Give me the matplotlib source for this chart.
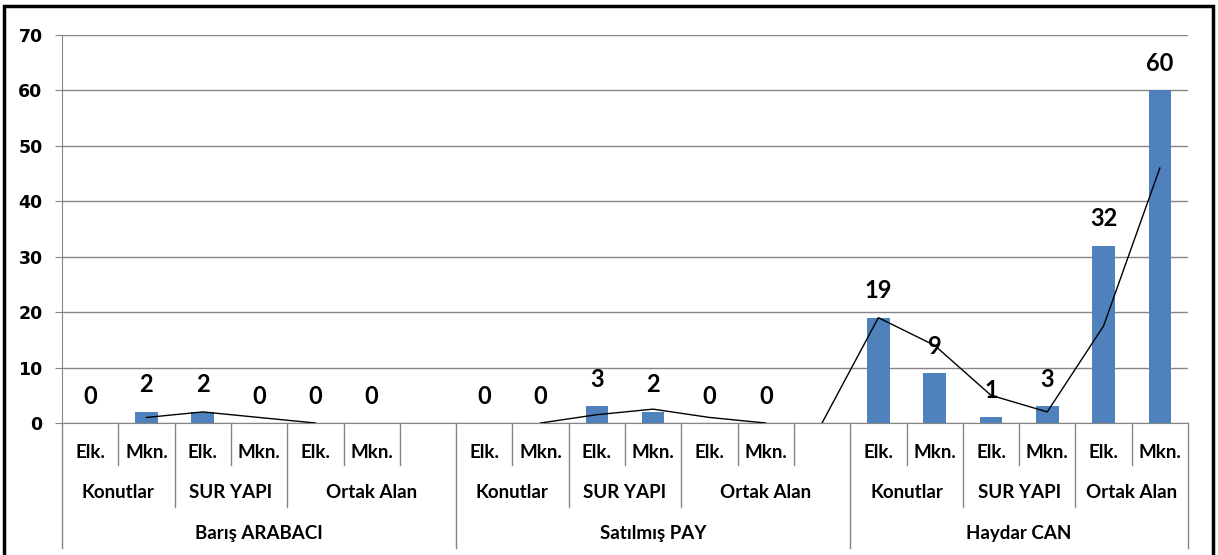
import numpy as np
import matplotlib
matplotlib.use("Agg")
import matplotlib.pyplot as plt
from matplotlib import transforms
from matplotlib.patches import Rectangle

plt.rcParams["font.family"] = ["Lato", "DejaVu Sans"]

groups = ["Barış ARABACI", "Satılmış PAY", "Haydar CAN"]
subgroups = ["Konutlar", "SUR YAPI", "Ortak Alan"]
kinds = ["Elk.", "Mkn."]

baris = [0, 2, 2, 0, 0, 0]
satilmis = [0, 0, 3, 2, 0, 0]
haydar = [19, 9, 1, 3, 32, 60]

# moving average trendline (None = not drawn)
trend_baris = [None, 1, 2, 1, 0, None]
trend_satilmis = [None, 0, 1.5, 2.5, 1, 0]
trend_haydar = [19, 14, 5, 2, 17.5, 46]

BLUE = "#4F81BD"
GRAY = "#868686"

# category layout: 6 bars per group, an empty slot after the first two groups
values = [baris, satilmis, haydar]
xs, ys = [], []
group_edges = [-0.5]
pos = 0
for gi, vals in enumerate(values):
    for k, v in enumerate(vals):
        xs.append(pos + k)
        ys.append(v)
    size = 7 if gi < 2 else 6
    pos += size
    group_edges.append(pos - 0.5)

fig = plt.figure(figsize=(12.18, 5.55), dpi=100)
ax = fig.add_axes([62 / 1218, 132 / 555, 1126 / 1218, 388 / 555])

ax.bar(xs, ys, width=0.4, color=BLUE, zorder=2)
for x, v in zip(xs, ys):
    ax.annotate(str(v), (x, v), xytext=(0, 27), textcoords="offset pixels",
                ha="center", va="center", fontsize=17, fontweight="bold", zorder=4)

# trendline segments (breaks where Excel left gaps)
segs = [([1, 2, 3, 4], trend_baris[1:5]),
        ([8, 9, 10, 11, 12], trend_satilmis[1:6]),
        ([13, 14, 15, 16, 17, 18, 19], [0] + trend_haydar)]
for sx, sy in segs:
    ax.plot(sx, sy, color="black", lw=1, zorder=3)

ax.set_xlim(-0.5, 19.5)
ax.set_ylim(0, 70)
ax.set_yticks(np.arange(0, 71, 10))
ax.yaxis.grid(True, color=GRAY, lw=1)
ax.set_axisbelow(True)
for s in ["top", "right"]:
    ax.spines[s].set_visible(False)
ax.spines["left"].set_color(GRAY)
ax.spines["bottom"].set_color(GRAY)
ax.tick_params(axis="y", length=5, color=GRAY, pad=9)
for lab in ax.get_yticklabels():
    lab.set_fontweight("bold")
    lab.set_fontfamily("DejaVu Sans")
    lab.set_fontsize(12.5)
ax.set_xticks([])

# multi level category axis
tr = transforms.blended_transform_factory(ax.transData, ax.transAxes)
r1, r2, r3 = -42 / 388, -84 / 388, -125 / 388
sub_edges = []
for gi in range(3):
    start = group_edges[gi] + 0.5
    sub_edges += [start + 1.5, start + 3.5]
for b in np.arange(-0.5, 20, 1.0):
    if any(abs(b - e) < 1e-6 for e in group_edges):
        y_end = r3
    elif any(abs(b - e) < 1e-6 for e in sub_edges):
        y_end = r2
    else:
        y_end = r1
    ax.plot([b, b], [0, y_end], transform=tr, color=GRAY, lw=1, clip_on=False)

fs = 13.5
for gi, g in enumerate(groups):
    start = group_edges[gi] + 0.5
    end = group_edges[gi + 1] - 0.5
    for k in range(6):
        ax.text(start + k, -29 / 388, kinds[k % 2], transform=tr, ha="center",
                va="center", fontsize=fs, fontweight="bold")
    ax.text(start + 0.5, -69 / 388, subgroups[0], transform=tr, ha="center",
            va="center", fontsize=fs, fontweight="bold")
    ax.text(start + 2.5, -69 / 388, subgroups[1], transform=tr, ha="center",
            va="center", fontsize=fs, fontweight="bold")
    ax.text((start + 4 + end) / 2, -69 / 388, subgroups[2], transform=tr,
            ha="center", va="center", fontsize=fs, fontweight="bold")
    ax.text((start + end) / 2, -110 / 388, g, transform=tr, ha="center",
            va="center", fontsize=fs, fontweight="bold")

fig.patches.append(Rectangle((4 / 1218, -0.02), 1209 / 1218, 1.02 - 5.5 / 555,
                             transform=fig.transFigure, fill=False,
                             edgecolor="black", lw=2.5))

fig.savefig("out.png", dpi=100)
